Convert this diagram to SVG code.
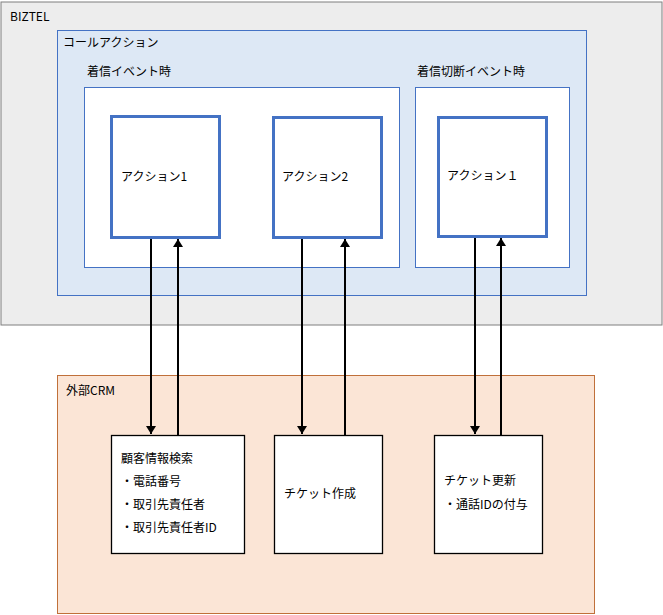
<svg xmlns="http://www.w3.org/2000/svg" width="663" height="615" viewBox="0 0 663 615">
<defs>
<style>
text{font-family:"Noto Sans CJK JP","Liberation Sans",sans-serif;font-size:12px;fill:#000}
.act{fill:#fff;stroke:#4472c4;stroke-width:3}
.ev{fill:#fff;stroke:#4472c4;stroke-width:1}
.crm{fill:#fff;stroke:#000;stroke-width:1.3}
.conn line{stroke:#000;stroke-width:2}
</style>
<marker id="ah" markerWidth="10" markerHeight="10" refX="5" refY="8" orient="auto" markerUnits="userSpaceOnUse" viewBox="0 0 10 10">
<path d="M0,0 L10,0 L5,8 Z" transform="rotate(0)" fill="#000"/>
</marker>
<marker id="ah2" markerWidth="10" markerHeight="10" refX="8" refY="5" orient="auto" markerUnits="userSpaceOnUse" viewBox="0 0 10 10">
<path d="M0,0 L8,5 L0,10 Z" fill="#000"/>
</marker>
</defs>
<g id="biztel">
<rect x="1" y="2" width="661" height="323" fill="#ededed" stroke="#7f7f7f" stroke-width="1"/>
<text x="10" y="21">BIZTEL</text>
</g>
<g id="callaction">
<rect x="57.5" y="30.5" width="529" height="265" fill="#dde8f5" stroke="#4472c4" stroke-width="1"/>
<text x="63" y="47">コールアクション</text>
</g>
<g id="event-incoming">
<rect class="ev" x="84.5" y="87.5" width="315" height="180"/>
<text x="87" y="76">着信イベント時</text>
</g>
<g id="event-disconnect">
<rect class="ev" x="415.5" y="87.5" width="154" height="180"/>
<text x="417" y="76">着信切断イベント時</text>
</g>
<g id="action1">
<rect class="act" x="111.5" y="116.5" width="108" height="121"/>
<text x="121" y="181">アクション1</text>
</g>
<g id="action2">
<rect class="act" x="273.5" y="117.5" width="108" height="120"/>
<text x="282" y="181">アクション2</text>
</g>
<g id="action1b">
<rect class="act" x="438.5" y="117.5" width="108" height="119"/>
<text x="447" y="180">アクション１</text>
</g>
<g id="crm">
<rect x="57.5" y="375.5" width="537" height="238" fill="#fbe5d6" stroke="#c0703a" stroke-width="1"/>
<text x="66" y="395">外部CRM</text>
</g>
<g id="search">
<rect class="crm" x="111.5" y="435.5" width="133" height="118"/>
<text x="121" y="463">顧客情報検索</text>
<text x="121" y="486">・電話番号</text>
<text x="121" y="509">・取引先責任者</text>
<text x="121" y="532">・取引先責任者ID</text>
</g>
<g id="ticket-create">
<rect class="crm" x="274.5" y="435.5" width="108" height="118"/>
<text x="284" y="498">チケット作成</text>
</g>
<g id="ticket-update">
<rect class="crm" x="434.5" y="435.5" width="108" height="118"/>
<text x="444" y="485">チケット更新</text>
<text x="444" y="509">・通話IDの付与</text>
</g>
<g class="conn" id="connectors">
<line x1="151" y1="239" x2="151" y2="434" marker-end="url(#ah2)"/>
<line x1="178" y1="435" x2="178" y2="239" marker-end="url(#ah2)"/>
<line x1="302" y1="239" x2="302" y2="434" marker-end="url(#ah2)"/>
<line x1="345" y1="435" x2="345" y2="239" marker-end="url(#ah2)"/>
<line x1="475" y1="238" x2="475" y2="434" marker-end="url(#ah2)"/>
<line x1="501" y1="435" x2="501" y2="238" marker-end="url(#ah2)"/>
</g>
</svg>
